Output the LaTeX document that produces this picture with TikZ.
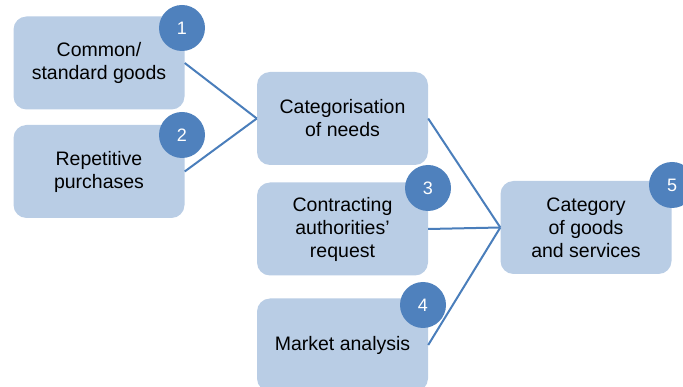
\documentclass[tikz,border=0pt]{standalone}
\usepackage{fontspec}
\setmainfont{Liberation Sans}
\definecolor{boxfill}{HTML}{B9CDE5}
\definecolor{circfill}{HTML}{4F81BD}
\definecolor{linecol}{HTML}{4A7EBB}
\begin{document}
\begin{tikzpicture}[x=1pt,y=-1pt,
  box/.style={fill=boxfill, rounded corners=13pt, minimum width=171pt, minimum height=93pt,
    inner sep=0pt, align=center, font=\fontsize{19.5pt}{23pt}\selectfont, text=black},
  num/.style={circle, fill=circfill, minimum size=46pt, inner sep=0pt, text=white,
    font=\fontsize{18pt}{20pt}\selectfont},
  conn/.style={draw=linecol, line width=2pt}]
\useasboundingbox (0,0) rectangle (683,387);
\node[box] (b1) at (99,63) {Common/\\standard goods};
\node[box] (b2) at (99,171.5) {Repetitive\\purchases};
\node[box] (cat) at (342.5,118.5) {Categorisation\\of needs};
\node[box] (b3) at (342.5,229) {Contracting\\authorities’\\request};
\node[box] (b4) at (342.5,345) {Market analysis};
\node[box] (b5) at (586,227.5) {Category\\of goods\\and services};
\draw[conn] (b1.east) -- (cat.west);
\draw[conn] (b2.east) -- (cat.west);
\draw[conn] (cat.east) -- (b5.west);
\draw[conn] (b3.east) -- (b5.west);
\draw[conn] (b4.east) -- (b5.west);
\node[num] (n1) at (182,28) {1};
\node[num] (n2) at (182,135) {2};
\node[num] (n3) at (428,188) {3};
\node[num] (n4) at (423,305) {4};
\node[num] (n5) at (672,185) {5};
\end{tikzpicture}
\end{document}
